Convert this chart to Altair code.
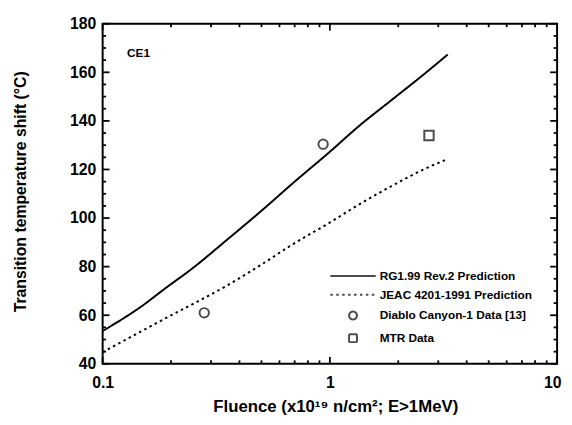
import math
import altair as alt
import pandas as pd

# ---- data ----
rg_x = [0.1, 0.15, 0.187, 0.25, 0.352, 0.5, 0.7, 1.0, 1.34, 1.87, 2.61, 3.3]
rg_y = [53.5, 64.0, 70.8, 79.5, 91.0, 103.0, 115.0, 127.3, 137.8, 148.6, 159.4, 167.3]
jeac_x = [0.1, 0.187, 0.352, 0.493, 0.689, 0.977, 1.34, 1.87, 2.61, 3.3]
jeac_y = [44.8, 58.5, 72.2, 80.5, 89.3, 97.6, 105.5, 113.2, 120.2, 124.3]
dc_x = [0.28, 0.934]
dc_y = [61.0, 130.4]
mtr_x = [2.73]
mtr_y = [134.0]

series_names = ["RG1.99 Rev.2 Prediction", "JEAC 4201-1991 Prediction",
                "Diablo Canyon-1 Data [13]", "MTR Data"]

x_major = [0.1, 1, 10]
x_minor = [0.2, 0.3, 0.4, 0.5, 0.6, 0.7, 0.8, 0.9, 2, 3, 4, 5, 6, 7, 8, 9]
y_major = [40, 60, 80, 100, 120, 140, 160, 180]
y_minor = [v for v in range(45, 180, 5) if v % 20 != 0]

annot_text = ["CE1"]
annot_x = [0.128]
annot_y = [168]

# ---- tables ----
lines_df = pd.concat([
    pd.DataFrame({"fluence": rg_x, "shift": rg_y, "series": series_names[0]}),
    pd.DataFrame({"fluence": jeac_x, "shift": jeac_y, "series": series_names[1]}),
])
points_df = pd.concat([
    pd.DataFrame({"fluence": dc_x, "shift": dc_y, "series": series_names[2]}),
    pd.DataFrame({"fluence": mtr_x, "shift": mtr_y, "series": series_names[3]}),
])
annot_df = pd.DataFrame({"fluence": annot_x, "shift": annot_y, "label": annot_text})

FONT = "Liberation Sans"
W, H = 461, 345
X_DOM = [0.1, 10]
Y_DOM = [40, 180]
xscale = alt.Scale(type="log", domain=X_DOM, nice=False)
yscale = alt.Scale(domain=Y_DOM, nice=False, zero=False)

x_axis = alt.Axis(
    values=x_major, labelExpr="format(datum.value, '~g')",
    ticks=False, domain=False, grid=False, labelFlush=False,
    labelFont=FONT, labelFontSize=16, labelFontWeight="bold", labelColor="black",
    labelPadding=11,
    labelOffset={"condition": {"test": "datum.value == 10", "value": -5}, "value": 0},
    title="Fluence (x10¹⁹ n/cm²; E>1MeV)", titleFont=FONT, titleFontSize=17,
    titleFontWeight="bold", titleColor="black",
    titleX=236, titleY=43, titleBaseline="middle",
)
y_axis = alt.Axis(
    values=y_major, ticks=False, domain=False, grid=False, labelFlush=False,
    labelFont=FONT, labelFontSize=16, labelFontWeight="bold", labelColor="black",
    labelPadding=7,
    title="Transition temperature shift (°C)", titleFont=FONT, titleFontSize=16,
    titleFontWeight="bold", titleColor="black",
    titleX=-83, titleY=170, titleBaseline="middle",
)

legend_def = alt.Legend(
    title=None, orient="none", legendX=248, legendY=250,
    labelFont=FONT, labelFontSize=12, labelFontWeight="bold", labelColor="black",
    symbolSize=64, labelOffset=21, rowPadding=7,
    symbolStrokeColor="black", symbolFillColor="transparent",
)
dash_scale = alt.Scale(domain=series_names, range=[[1, 0], [2.5, 3.5], [1, 0], [1, 0]])
shape_scale = alt.Scale(domain=series_names,
                        range=["M-5.75,0H5.75", "M-5.75,0H5.75", "circle", "square"])
width_scale = alt.Scale(domain=series_names, range=[2, 2, 1, 1])

# tick lengths in pixels, converted to data units along the crossing axis
MAJ = 7
MIN = 3.5
dy_per_px = (Y_DOM[1] - Y_DOM[0]) / H
dlog_per_px = (math.log10(X_DOM[1]) - math.log10(X_DOM[0])) / W

# each tick is a two-point segment drawn in data space
tick_rows = []
tid = 0
for vals, length in ((x_major, MAJ), (x_minor, MIN)):
    dy = length * dy_per_px
    for v in vals:
        for y0, y1 in ((Y_DOM[0], Y_DOM[0] + dy), (Y_DOM[1], Y_DOM[1] - dy)):
            tick_rows.append({"fluence": v, "shift": y0, "tick": tid})
            tick_rows.append({"fluence": v, "shift": y1, "tick": tid})
            tid += 1
for vals, length in ((y_major, MAJ), (y_minor, MIN)):
    f = 10 ** (length * dlog_per_px)
    for v in vals:
        for x0, x1 in ((X_DOM[0], X_DOM[0] * f), (X_DOM[1], X_DOM[1] / f)):
            tick_rows.append({"fluence": x0, "shift": v, "tick": tid})
            tick_rows.append({"fluence": x1, "shift": v, "tick": tid})
            tid += 1
ticks_df = pd.DataFrame(tick_rows)

ticks = alt.Chart(ticks_df).mark_line(color="black", strokeWidth=1.8).encode(
    x=alt.X("fluence:Q", scale=xscale, axis=x_axis),
    y=alt.Y("shift:Q", scale=yscale, axis=y_axis),
    detail="tick:N",
)

lines = alt.Chart(lines_df).mark_line(color="black", interpolate="monotone").encode(
    x=alt.X("fluence:Q", scale=xscale, axis=x_axis),
    y=alt.Y("shift:Q", scale=yscale, axis=y_axis),
    strokeDash=alt.StrokeDash("series:N", scale=dash_scale, legend=legend_def),
    strokeWidth=alt.StrokeWidth("series:N", scale=width_scale, legend=legend_def),
    detail="series:N",
)

points = alt.Chart(points_df).mark_point(color="black", filled=False, size=90).encode(
    x=alt.X("fluence:Q", scale=xscale, axis=x_axis),
    y=alt.Y("shift:Q", scale=yscale, axis=y_axis),
    shape=alt.Shape("series:N", scale=shape_scale, legend=legend_def),
    strokeWidth=alt.StrokeWidth("series:N", scale=width_scale, legend=legend_def),
)

annot = alt.Chart(annot_df).mark_text(
    align="left", baseline="middle", font=FONT, fontSize=12, fontWeight="bold", color="black"
).encode(
    x=alt.X("fluence:Q", scale=xscale, axis=x_axis),
    y=alt.Y("shift:Q", scale=yscale, axis=y_axis),
    text="label:N",
)

chart = alt.layer(lines, points, annot, ticks).properties(
    width=W, height=H,
    autosize=alt.AutoSizeParams(type="none"),
    padding={"left": 96, "top": 13, "right": 7, "bottom": 51},
    background="white",
).configure_view(stroke="black", strokeWidth=2)

chart.save("out.html", embed_options={"renderer": "svg", "actions": False})
